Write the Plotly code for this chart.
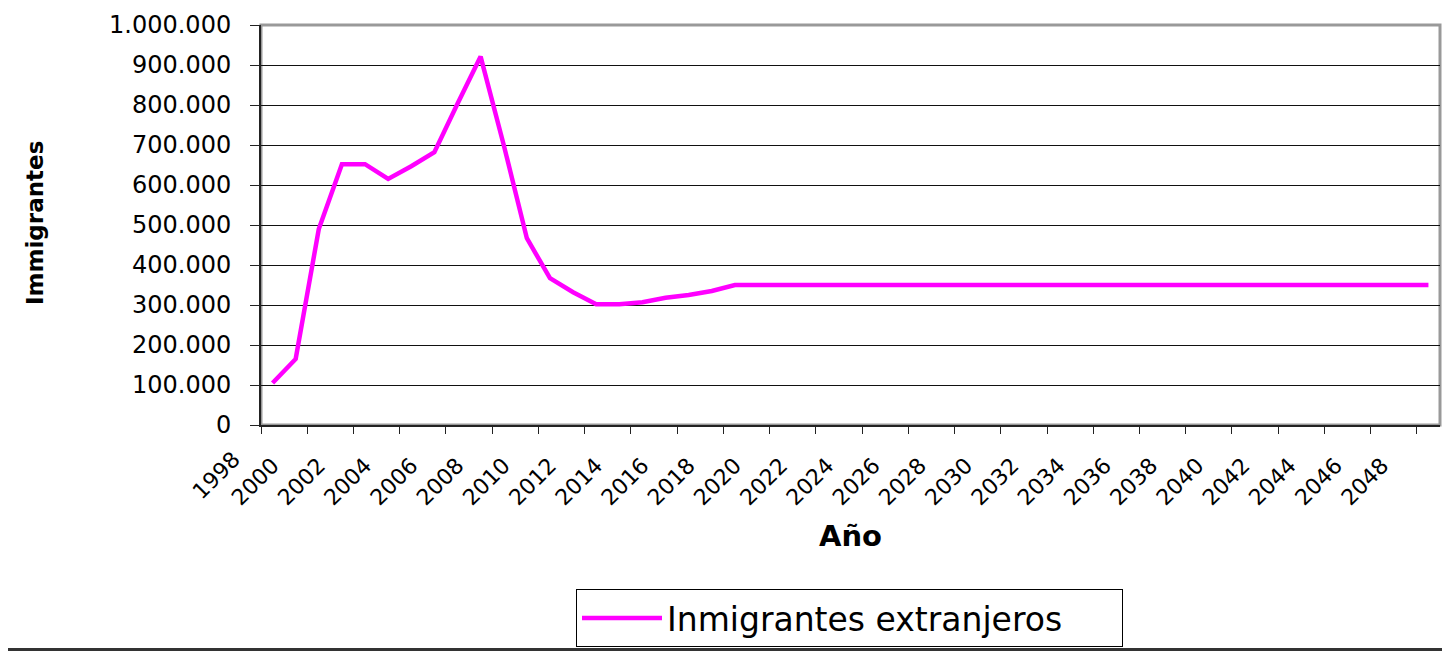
import plotly.graph_objects as go

# ---- data ----
years = list(range(2000, 2051))
immigrants = [
    105000, 165000, 490000, 652000, 652000, 615000, 647000, 682000, 803000, 921000,
    700000, 467000, 367000, 332000, 302000, 302000, 307000, 318000, 325000, 335000,
    350000, 350000, 350000, 350000, 350000, 350000, 350000, 350000, 350000, 350000,
    350000, 350000, 350000, 350000, 350000, 350000, 350000, 350000, 350000, 350000,
    350000, 350000, 350000, 350000, 350000, 350000, 350000, 350000, 350000, 350000,
    350000,
]
label_years = list(range(2000, 2049, 2))
tick_labels = [str(y) for y in label_years]
boundary_ticks = [y + 0.5 for y in range(1999, 2050, 2)]
y_ticks = list(range(0, 1000001, 100000))

series_name = "Inmigrantes extranjeros"
x_title = "Año"
y_title = "Immigrantes"
stray_label = "1998"

FONT = "DejaVu Sans"
MAG = "#FF00FF"

# the page body adds an 8px offset; figure coordinates are compensated
OFF = 8
W, H = 1450 - OFF, 651 - OFF
L, R, T, B = 261 - OFF, 10, 25 - OFF, 651 - 425
pw, ph = W - L - R, H - T - B


def px_x(p):
    """reference screen pixel -> paper x"""
    return (p - OFF - L) / pw


def px_y(p):
    """reference screen pixel -> paper y"""
    return (H - B - (p - OFF)) / ph


fig = go.Figure()
fig.add_trace(go.Scatter(
    x=years, y=immigrants, mode="lines", name=series_name,
    line=dict(color=MAG, width=4.5),
))

fig.update_layout(
    width=W, height=H,
    margin=dict(l=L, r=R, t=T, b=B, pad=0, autoexpand=False),
    paper_bgcolor="white", plot_bgcolor="white",
    separators=",.",
    showlegend=True,
    legend=dict(
        orientation="h",
        x=px_x(576), xanchor="left", y=px_y(589), yanchor="top",
        bordercolor="black", borderwidth=1, bgcolor="white",
        font=dict(family=FONT, size=33, color="black"),
        itemwidth=80,
        entrywidth=450, entrywidthmode="pixels",
    ),
    xaxis=dict(
        automargin=False,
        range=[1999.5, 2050.5],
        tickmode="array", tickvals=label_years, ticktext=tick_labels,
        tickangle=-45, ticks="", ticklen=0,
        ticklabelstandoff=17,
        tickfont=dict(family=FONT, size=22, color="black"),
        showgrid=False, zeroline=False,
        showline=True, linecolor="#222", linewidth=2,
        minor=dict(tickmode="array", tickvals=boundary_ticks, ticks="outside",
                   ticklen=7, tickwidth=1, tickcolor="#222", showgrid=False),
    ),
    yaxis=dict(
        automargin=False,
        range=[0, 1000000],
        tickmode="array", tickvals=y_ticks, tickformat=",d",
        ticks="outside", ticklen=9, tickwidth=1, tickcolor="#222",
        ticklabelstandoff=14,
        tickfont=dict(family=FONT, size=24, color="black"),
        showgrid=True, gridcolor="#111", gridwidth=1,
        zeroline=False,
        showline=True, linecolor="#222", linewidth=2,
    ),
    shapes=[
        dict(type="rect", xref="paper", yref="paper", x0=0, x1=1, y0=0, y1=1,
             line=dict(color="#999999", width=3), layer="below"),
        dict(type="line", xref="paper", yref="paper",
             x0=px_x(0), x1=px_x(1450), y0=px_y(649.5), y1=px_y(649.5),
             line=dict(color="#333333", width=3)),
    ],
    annotations=[
        dict(text=x_title, xref="paper", yref="paper", x=px_x(850), y=px_y(536),
             xanchor="center", yanchor="middle", showarrow=False,
             font=dict(family=FONT, size=29, color="black", weight="bold")),
        dict(text=y_title, xref="paper", yref="paper", x=px_x(35), y=px_y(223),
             xanchor="center", yanchor="middle", showarrow=False, textangle=-90,
             font=dict(family=FONT, size=23, color="black", weight="bold")),
        dict(text=stray_label, xref="paper", yref="paper", x=px_x(216), y=px_y(475),
             xanchor="center", yanchor="middle", showarrow=False, textangle=-45,
             font=dict(family=FONT, size=22, color="black")),
    ],
)

fig.write_html("out.html")
